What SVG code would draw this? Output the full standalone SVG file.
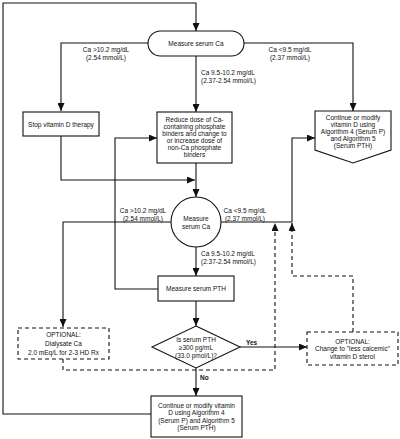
<svg xmlns="http://www.w3.org/2000/svg" width="400" height="439" viewBox="0 0 400 439">
<defs>
<marker id="ah" markerUnits="userSpaceOnUse" markerWidth="8" markerHeight="7" refX="8" refY="3.5" orient="auto">
<path d="M0,0 L8,3.5 L0,7 Z" fill="#111"/>
</marker>
<style>
.n{fill:#fff;stroke:#111;stroke-width:1.1}
.d{fill:#fff;stroke:#111;stroke-width:1.1;stroke-dasharray:4,3}
.c{fill:none;stroke:#111;stroke-width:1.1;marker-end:url(#ah)}
.cd{fill:none;stroke:#111;stroke-width:1.1;stroke-dasharray:4,3;marker-end:url(#ah)}
text{font-family:"Liberation Sans",Arial,sans-serif;font-size:6.5px;fill:#111}
.m{text-anchor:middle}
.b{font-weight:bold}
</style>
</defs>
<rect width="400" height="439" fill="#fff"/>
<g id="connectors">
<path class="c" d="M151,414 H3 V3 H196 V31"/>
<path class="c" d="M148,43 H61 V111"/>
<path class="c" d="M244,43 H353 V111"/>
<path class="c" d="M196,56 V112"/>
<path class="c" d="M61,136 V180 H195"/>
<path class="c" d="M196,163 V197"/>
<path class="c" d="M171,222 H63 V327"/>
<path class="c" d="M221,222 H292 V138 H315"/>
<path class="c" d="M196,247 V276"/>
<path class="c" d="M158,289 H115 V138 H157"/>
<path class="c" d="M196,301 V326"/>
<path class="c" d="M240,347 H307"/>
<path class="c" d="M196,368 V396"/>
<path class="cd" d="M63,359 V370 H275 V223"/>
<path class="cd" d="M353,332 V276 H292 V223"/>
<text class="m" x="106" y="51.5">Ca &gt;10.2 mg/dL</text>
<text class="m" x="106" y="60">(2.54 mmol/L)</text>
<text class="m" x="290" y="51.5">Ca &lt;9.5 mg/dL</text>
<text class="m" x="290" y="60">(2.37 mmol/L)</text>
<text x="201" y="74.5">Ca 9.5-10.2 mg/dL</text>
<text x="201" y="82.5">(2.37-2.54 mmol/L)</text>
<text class="m" x="143" y="212.5">Ca &gt;10.2 mg/dL</text>
<text class="m" x="143" y="220.5">(2.54 mmol/L)</text>
<text class="m" x="245" y="212.5">Ca &lt;9.5 mg/dL</text>
<text class="m" x="245" y="220.5">(2.37 mmol/L)</text>
<text x="201" y="256">Ca 9.5-10.2 mg/dL</text>
<text x="201" y="264">(2.37-2.54 mmol/L)</text>
<text class="b" x="246" y="345">Yes</text>
<text class="b" x="200" y="379.5">No</text>
</g>
<g id="measure-ca-1">
<rect class="n" x="148" y="31" width="96" height="25" rx="12.5"/>
<text class="m" x="196" y="45.5">Measure serum Ca</text>
</g>
<g id="stop-vitd">
<rect class="n" x="23" y="112" width="76" height="24"/>
<text class="m" x="61" y="126.5">Stop vitamin D therapy</text>
</g>
<g id="reduce-dose">
<rect class="n" x="157" y="112" width="75" height="51"/>
<text class="m" x="194.5" y="121.5">Reduce dose of Ca-</text>
<text class="m" x="194.5" y="128.5">containing phosphate</text>
<text class="m" x="194.5" y="135.5">binders and change to</text>
<text class="m" x="194.5" y="142.5">or increase dose of</text>
<text class="m" x="194.5" y="149.5">non-Ca phosphate</text>
<text class="m" x="194.5" y="156.5">binders</text>
</g>
<g id="continue-right">
<path class="n" d="M315,111 H391 V150 L353,163 L315,150 Z"/>
<text class="m" x="353" y="119.5">Continue or modify</text>
<text class="m" x="353" y="126.5">vitamin D using</text>
<text class="m" x="353" y="133.5">Algorithm 4 (Serum P)</text>
<text class="m" x="353" y="140.5">and Algorithm 5</text>
<text class="m" x="353" y="147.5">(Serum PTH)</text>
</g>
<g id="measure-ca-2">
<circle class="n" cx="196" cy="222" r="25"/>
<text class="m" x="196" y="220.5">Measure</text>
<text class="m" x="196" y="228.5">serum Ca</text>
</g>
<g id="measure-pth">
<rect class="n" x="158" y="276" width="76" height="25"/>
<text class="m" x="196" y="290.5">Measure serum PTH</text>
</g>
<g id="pth-decision">
<path class="n" d="M196,326 L240,347 L196,368 L152,347 Z"/>
<text class="m" x="196" y="341.5">Is serum PTH</text>
<text class="m" x="196" y="349.5">≥300 pg/mL</text>
<text class="m" x="196" y="357.5">(33.0 pmol/L)?</text>
</g>
<g id="dialysate">
<rect class="d" x="18" y="328" width="91" height="31"/>
<text class="m" x="63.5" y="336.5">OPTIONAL:</text>
<text class="m" x="63.5" y="345.5">Dialysate Ca</text>
<text class="m" x="63.5" y="354.5">2.0 mEq/L for 2-3 HD Rx</text>
</g>
<g id="less-calcemic">
<rect class="d" x="307" y="332" width="91" height="33"/>
<text class="m" x="352.5" y="343.5">OPTIONAL:</text>
<text class="m" x="352.5" y="351">Change to "less calcemic"</text>
<text class="m" x="352.5" y="358.5">vitamin D sterol</text>
</g>
<g id="continue-bottom">
<rect class="n" x="151" y="396" width="91" height="41"/>
<text class="m" x="196.5" y="407.5">Continue or modify vitamin</text>
<text class="m" x="196.5" y="415">D using Algorithm 4</text>
<text class="m" x="196.5" y="422.5">(Serum P) and Algorithm 5</text>
<text class="m" x="196.5" y="430">(Serum PTH)</text>
</g>
</svg>
